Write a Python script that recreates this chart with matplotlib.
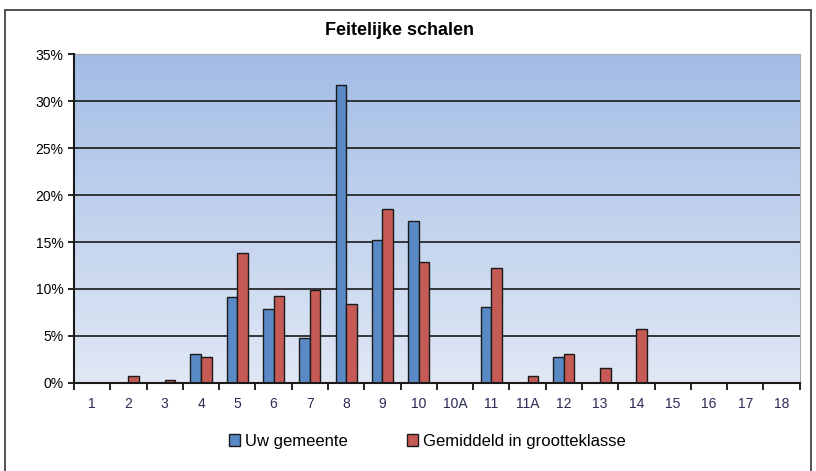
import numpy as np
import matplotlib
matplotlib.use("Agg")
import matplotlib.pyplot as plt
from matplotlib.ticker import FuncFormatter
from matplotlib.patches import Rectangle

categories = ["1", "2", "3", "4", "5", "6", "7", "8", "9", "10", "10A",
              "11", "11A", "12", "13", "14", "15", "16", "17", "18"]
uw_gemeente = [0, 0, 0, 3.1, 9.15, 7.9, 4.8, 31.7, 15.2, 17.2, 0,
               8.1, 0, 2.8, 0, 0, 0, 0, 0, 0]
gemiddeld = [0, 0.7, 0.3, 2.8, 13.8, 9.3, 9.9, 8.4, 18.5, 12.9, 0,
             12.2, 0.7, 3.1, 1.6, 5.7, 0, 0, 0, 0]

plt.rcParams['font.family'] = ['Liberation Sans', 'DejaVu Sans']

fig = plt.figure(figsize=(8.16, 4.71), dpi=100)
ax = fig.add_axes([0.0907, 0.187, 0.8893, 0.698])

# outer frame
fig.patches.append(Rectangle((0.006, -0.01), 0.988, 0.988, transform=fig.transFigure,
                             fill=False, edgecolor='#333333', linewidth=1.2))

n = len(categories)
x = np.arange(n)
w = 0.29
ax.set_xlim(-0.5, n - 0.5)
ax.set_ylim(0, 35)

# gradient background
grad = np.linspace(0, 1, 256).reshape(-1, 1)
top = np.array([0.64, 0.74, 0.90])
bot = np.array([0.88, 0.91, 0.96])
img = bot + (top - bot) * grad
ax.imshow(img[:, None, :].repeat(2, axis=1), extent=(-0.5, n - 0.5, 0, 35),
          origin='lower', aspect='auto', zorder=0)

for yv in range(5, 35, 5):
    ax.axhline(yv, color='#1a1a1a', linewidth=1.2, zorder=1)

ax.bar(x - w / 2, uw_gemeente, w, color='#5A8AC6', edgecolor='#1a1a1a',
       linewidth=1.0, label='Uw gemeente', zorder=3)
ax.bar(x + w / 2, gemiddeld, w, color='#C65A55', edgecolor='#1a1a1a',
       linewidth=1.0, label='Gemiddeld in grootteklasse', zorder=3)

ax.set_yticks(range(0, 36, 5))
ax.yaxis.set_major_formatter(FuncFormatter(lambda v, p: f"{int(v)}%"))
ax.set_xticks(x)
ax.set_xticklabels(categories, color='#2a2a55')
ax.set_xticks(np.arange(-0.5, n, 1), minor=True)
ax.tick_params(axis='x', which='major', length=0, pad=10, labelsize=10)
ax.tick_params(axis='x', which='minor', length=5, width=1.2, direction='out')
ax.tick_params(axis='y', length=4, width=1.2, labelsize=10)

for s in ['left', 'bottom']:
    ax.spines[s].set_linewidth(1.5)
    ax.spines[s].set_color('#1a1a1a')
    ax.spines[s].set_zorder(4)
for s in ['top', 'right']:
    ax.spines[s].set_color('#aaaaaa')

fig.text(0.49, 0.935, 'Feitelijke schalen', fontsize=13, fontweight='bold',
         ha='center', va='center')

ax.legend(loc='upper center', bbox_to_anchor=(0.487, -0.11), ncol=2, frameon=False,
          fontsize=12, handlelength=0.7, handleheight=0.7, columnspacing=3.5,
          handletextpad=0.3)

fig.savefig('out.png', dpi=100)
